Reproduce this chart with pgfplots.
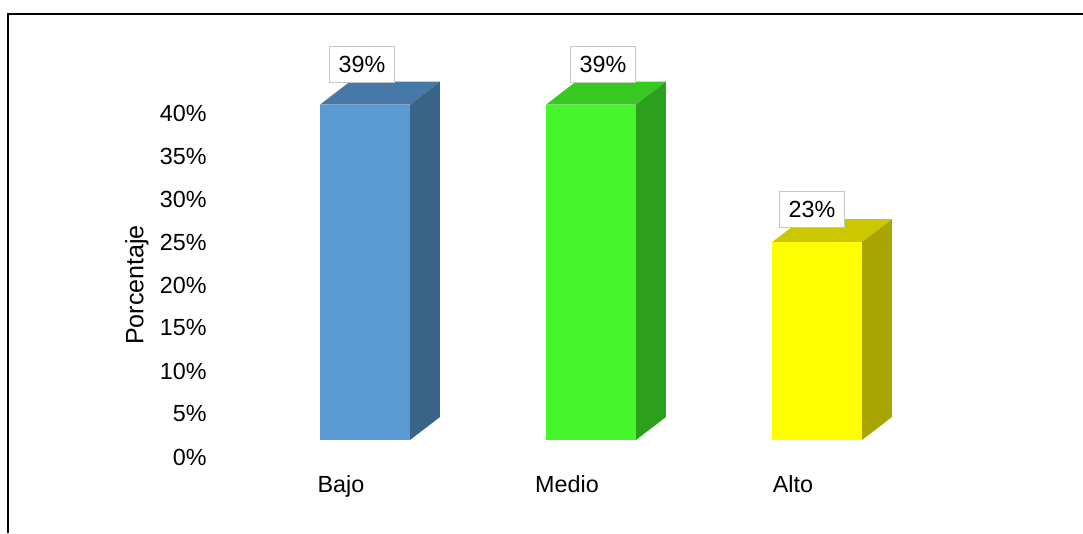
\documentclass[border=0pt]{standalone}
\usepackage{fontspec}
\setmainfont{Liberation Sans}
\usepackage{pgfplots}
\pgfplotsset{compat=1.18}
\definecolor{bajoF}{RGB}{91,155,213}
\definecolor{bajoT}{RGB}{70,120,168}
\definecolor{bajoS}{RGB}{58,99,136}
\definecolor{medF}{RGB}{69,247,42}
\definecolor{medT}{RGB}{55,200,33}
\definecolor{medS}{RGB}{44,160,28}
\definecolor{altF}{RGB}{255,255,0}
\definecolor{altT}{RGB}{204,200,0}
\definecolor{altS}{RGB}{168,164,0}
\tikzset{lbl/.style={anchor=center, draw=black!22, line width=1.1pt, fill=white,
    minimum width=48.75pt, minimum height=27pt, inner sep=1pt}}
\begin{document}
\fontsize{17.5}{21}\selectfont
\begin{tikzpicture}
\useasboundingbox (0,0) rectangle (812.25pt,-399.75pt);
\draw[line width=1.5pt] (6pt,-400pt) -- (6pt,-10.5pt) -- (813pt,-10.5pt);
\begin{axis}[
  at={(146.625pt,-362.25pt)}, anchor=south west,
  scale only axis, width=593.25pt, height=322.5pt,
  xmin=-0.75, xmax=2.75, ymin=-5, ymax=45,
  axis line style={draw=none}, tick style={draw=none},
  xtick={0,1,2}, xticklabels={Bajo,Medio,Alto},
  ytick={0,5,...,40},
  yticklabel={\pgfmathprintnumber{\tick}\%},
  /pgf/number format/assume math mode=true,
  xticklabel style={anchor=base, xshift=-18pt, yshift=-6.75pt},
  yticklabel style={anchor=east, inner sep=0pt, xshift=8.6pt, yshift=-12.75pt},
  ylabel={Porcentaje},
  ylabel style={at={(axis description cs:-0.074,0.4605)}, anchor=center, font=\fontsize{18.8}{22}\selectfont},
  clip=false,
]
% top and side faces
\addplot[fill=bajoT, draw=none] coordinates {(-0.199,39) (0.199,39) (0.3317,41.674) (-0.0663,41.674)} -- cycle;
\addplot[fill=bajoS, draw=none] coordinates {(0.199,0) (0.3317,2.674) (0.3317,41.674) (0.199,39)} -- cycle;
\addplot[fill=medT, draw=none] coordinates {(0.801,39) (1.199,39) (1.3317,41.674) (0.9337,41.674)} -- cycle;
\addplot[fill=medS, draw=none] coordinates {(1.199,0) (1.3317,2.674) (1.3317,41.674) (1.199,39)} -- cycle;
\addplot[fill=altT, draw=none] coordinates {(1.801,23) (2.199,23) (2.3317,25.674) (1.9337,25.674)} -- cycle;
\addplot[fill=altS, draw=none] coordinates {(2.199,0) (2.3317,2.674) (2.3317,25.674) (2.199,23)} -- cycle;
% front faces
\addplot[ybar, bar width=67.5pt, bar shift=0pt, fill=bajoF, draw=none,
  nodes near coords={\pgfmathprintnumber{\pgfplotspointmeta}\%},
  nodes near coords style={lbl, xshift=-2.25pt, yshift=29.9pt}] coordinates {(0,39)};
\addplot[ybar, bar width=67.5pt, bar shift=0pt, fill=medF, draw=none,
  nodes near coords={\pgfmathprintnumber{\pgfplotspointmeta}\%},
  nodes near coords style={lbl, xshift=9pt, yshift=29.9pt}] coordinates {(1,39)};
\addplot[ybar, bar width=67.5pt, bar shift=0pt, fill=altF, draw=none,
  nodes near coords={\pgfmathprintnumber{\pgfplotspointmeta}\%},
  nodes near coords style={lbl, xshift=-3.75pt, yshift=24.4pt}] coordinates {(2,23)};
\end{axis}
\end{tikzpicture}
\end{document}
